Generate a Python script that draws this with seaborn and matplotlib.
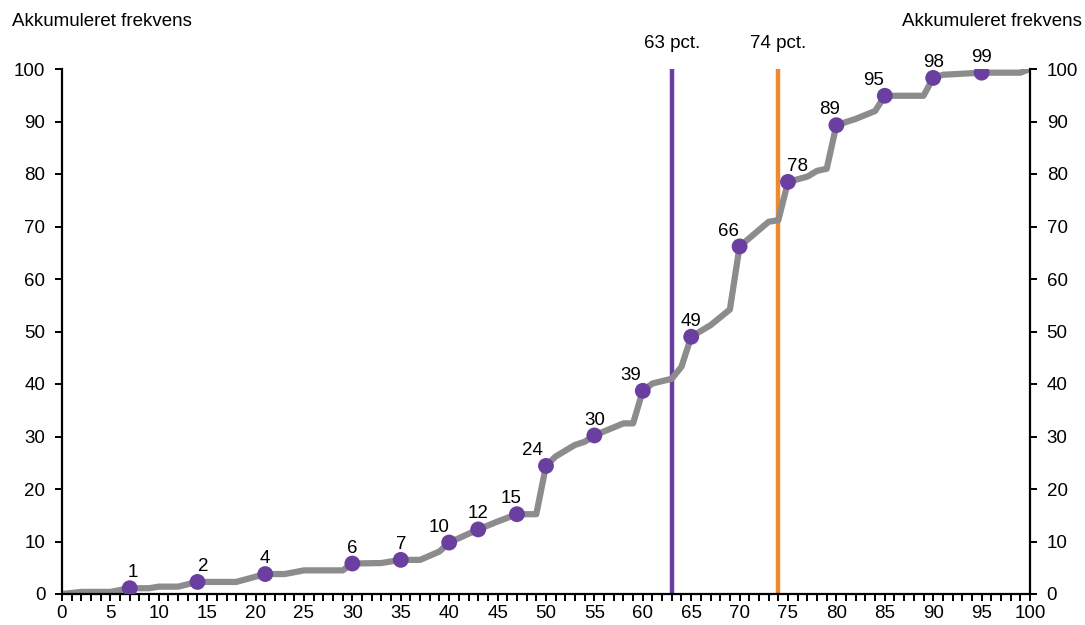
import pandas as pd
import matplotlib.pyplot as plt
import seaborn as sns
from matplotlib.ticker import MultipleLocator

sns.set_theme(style="white")
plt.rcParams['font.family'] = ['Liberation Sans', 'DejaVu Sans']
plt.rcParams['font.size'] = 13.5
plt.rcParams['text.color'] = 'black'
plt.rcParams['xtick.color'] = 'black'
plt.rcParams['ytick.color'] = 'black'

# Cumulative frequency curve
curve_x = [0, 2, 5, 7, 9, 10, 12, 14, 18, 21, 23, 25, 29, 30, 33, 35, 37, 39, 40,
           43, 45, 47, 49, 50, 51, 53, 54, 55, 58, 59, 60, 61, 63, 64, 65, 67, 69,
           70, 73, 74, 75, 77, 78, 79, 80, 82, 84, 85, 89, 90, 91, 95, 99, 100]
curve_y = [0, 0.4, 0.4, 1.1, 1.1, 1.4, 1.4, 2.3, 2.3, 3.8, 3.8, 4.5, 4.5, 5.8, 5.9,
           6.5, 6.5, 8.1, 9.8, 12.3, 13.8, 15.2, 15.2, 24.4, 26.2, 28.4, 29.0, 30.2,
           32.5, 32.5, 38.7, 40.1, 41.0, 43.3, 49.0, 51.2, 54.2, 66.2, 70.9, 71.2,
           78.5, 79.5, 80.6, 81.0, 89.3, 90.5, 92.0, 94.9, 94.9, 98.3, 98.9, 99.3,
           99.3, 100]

# Highlighted points and their labels
dot_x = [7, 14, 21, 30, 35, 40, 43, 47, 50, 55, 60, 65, 70, 75, 80, 85, 90, 95]
dot_y = [1.1, 2.3, 3.8, 5.8, 6.5, 9.8, 12.3, 15.2, 24.4, 30.2, 38.7, 49.0, 66.2,
         78.5, 89.3, 94.9, 98.3, 99.3]
dot_labels = ['1', '2', '4', '6', '7', '10', '12', '15', '24', '30', '39', '49',
              '66', '78', '89', '95', '98', '99']

# Reference lines
ref_x = [63, 74]
ref_labels = ['63 pct.', '74 pct.']

purple = '#6b3fa0'
orange = '#ee8a2c'
grey = '#8c8c8c'

curve = pd.DataFrame({'x': curve_x, 'y': curve_y})
dots = pd.DataFrame({'x': dot_x, 'y': dot_y, 'label': dot_labels})

fig = plt.figure(figsize=(10.85, 6.25), dpi=100)
ax = fig.add_axes([0.0571, 0.0496, 0.8922, 0.84])

for xv, col in zip(ref_x, [purple, orange]):
    ax.axvline(xv, color=col, lw=3.2, zorder=1)

sns.lineplot(data=curve, x='x', y='y', color=grey, lw=4.5, ax=ax, zorder=2)
sns.scatterplot(data=dots, x='x', y='y', color=purple, s=130, edgecolor='none',
                ax=ax, zorder=3)

# small horizontal nudges so labels sit like the original
nudge = {'1': 2, '2': 4, '10': -7, '15': -4, '24': -10, '39': -9, '66': -8,
         '78': 7, '89': -5, '95': -8}
for _, r in dots.iterrows():
    ax.annotate(r['label'], (r['x'], r['y']), xytext=(nudge.get(r['label'], 0), 5),
                textcoords='offset points', ha='center', va='bottom')

for xv, lab in zip(ref_x, ref_labels):
    ax.annotate(lab, (xv, 100), xytext=(0, 12), textcoords='offset points',
                ha='center', va='bottom', annotation_clip=False)

ax.set_xlim(0, 100)
ax.set_ylim(0, 100)
ax.xaxis.set_major_locator(MultipleLocator(5))
ax.xaxis.set_minor_locator(MultipleLocator(1))
ax.yaxis.set_major_locator(MultipleLocator(10))
ax.set_xlabel('')
ax.set_ylabel('')

for side in ['left', 'bottom', 'right']:
    ax.spines[side].set_visible(True)
    ax.spines[side].set_color('black')
    ax.spines[side].set_linewidth(1.6)
ax.spines['top'].set_visible(False)

ax.tick_params(axis='x', which='both', direction='out', bottom=True,
               width=1.4, labelsize=13.5)
ax.tick_params(axis='x', which='major', length=5, pad=3)
ax.tick_params(axis='x', which='minor', length=5)
ax.tick_params(axis='y', which='major', direction='out', left=True, right=True,
               labelleft=True, labelright=True, length=5, width=1.4,
               labelsize=13.5, pad=7)

fig.text(0.011, 0.952, 'Akkumuleret frekvens', ha='left', va='bottom')
fig.text(0.997, 0.952, 'Akkumuleret frekvens', ha='right', va='bottom')

fig.savefig('out.png', dpi=100)
